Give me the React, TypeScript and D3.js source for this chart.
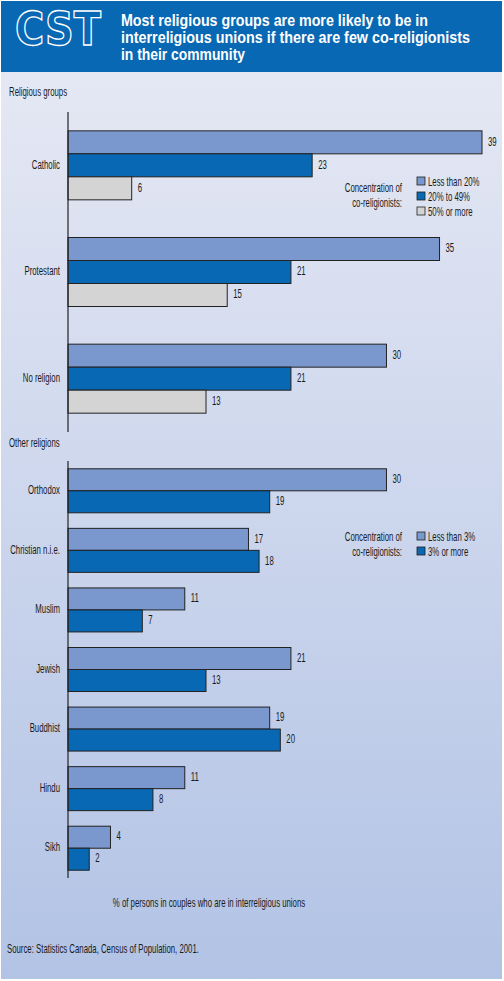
import React from 'react'
import * as d3 from 'd3'

// Top panel: major religious groups
const topGroups = ['Catholic', 'Protestant', 'No religion']
const topKeys = ['Less than 20%', '20% to 49%', '50% or more']
const topLess20 = [39, 35, 30]
const top20to49 = [23, 21, 21]
const top50plus = [6, 15, 13]

// Bottom panel: other religions
const otherGroups = ['Orthodox', 'Christian n.i.e.', 'Muslim', 'Jewish', 'Buddhist', 'Hindu', 'Sikh']
const otherKeys = ['Less than 3%', '3% or more']
const otherLess3 = [30, 17, 11, 21, 19, 11, 4]
const other3plus = [19, 18, 7, 13, 20, 8, 2]

const titleLines = [
  'Most religious groups are more likely to be in',
  'interreligious unions if there are few co-religionists',
  'in their community',
]
const titleWidths = [307, 349, 124]

const W = 504
const H = 981
const AXIS_X = 68
const FONT = "'Liberation Sans', Arial, sans-serif"
const TEXT = '#1a1a1a'
const COLORS = ['#7b98ce', '#0868b3', '#d4d4d4']
const TITLE_SX = 0.85

const x = d3.scaleLinear().domain([0, 39]).range([AXIS_X, 482])

// narrow text: no condensed face installed, so squeeze horizontally
function T({ x, y, anchor = 'start', size = 12, sx = 0.65, children, ...rest }) {
  return (
    <text
      transform={`translate(${x},${y}) scale(${sx},1)`}
      textAnchor={anchor}
      fontSize={size}
      fill={TEXT}
      {...rest}
    >
      {children}
    </text>
  )
}

function Panel({ groups, keys, series, y0, y1, block }) {
  const outer = d3.scaleBand().domain(groups).range([y0, y1]).padding(0)
  const inner = d3.scaleBand().domain(keys).range([0, block]).padding(0)
  const off = (outer.bandwidth() - block) / 2

  return (
    <g>
      {groups.map((g, gi) => {
        const top = outer(g) + off
        return (
          <g key={g}>
            {keys.map((k, ki) => {
              const v = series[ki][gi]
              const y = top + inner(k)
              return (
                <g key={k}>
                  <rect
                    x={AXIS_X}
                    y={y}
                    width={x(v) - AXIS_X}
                    height={inner.bandwidth()}
                    fill={COLORS[ki]}
                    stroke="#222"
                    strokeWidth={1}
                  />
                  <T x={x(v) + 6} y={y + inner.bandwidth() / 2} dominantBaseline="middle">
                    {v}
                  </T>
                </g>
              )
            })}
            <T x={60} y={top + block / 2} anchor="end" dominantBaseline="middle">
              {g}
            </T>
          </g>
        )
      })}
      <line x1={AXIS_X} x2={AXIS_X} y1={y0} y2={y1} stroke="#222" strokeWidth={1.2} />
    </g>
  )
}

function Legend({ keys, y0, y1 }) {
  return (
    <g>
      <T x={402} y={y0} anchor="end">Concentration of</T>
      <T x={402} y={y0 + 15} anchor="end">co-religionists:</T>
      {keys.map((k, i) => (
        <g key={k}>
          <rect x={417} y={y1 - 9 + i * 15} width={8} height={8} fill={COLORS[i]} stroke="#222" strokeWidth={0.8} />
          <T x={428} y={y1 + i * 15}>{k}</T>
        </g>
      ))}
    </g>
  )
}

export default function App() {
  return (
    <>
      <style>{'body{margin:0}'}</style>
      <svg width={W} height={H} style={{ display: 'block' }} fontFamily={FONT}>
        <defs>
          <linearGradient id="bg" x1="0" y1="0" x2="0" y2="1">
            <stop offset="0%" stopColor="#e5e8f4" />
            <stop offset="100%" stopColor="#b2c3e5" />
          </linearGradient>
        </defs>
        <rect x={0} y={0} width={W} height={H} fill="#fff" />
        <rect x={1} y={72} width={W - 3} height={H - 74} fill="url(#bg)" />
        <rect x={1} y={1} width={W - 3} height={71} fill="#0868b3" />

        {/* CST logo */}
        <text
          x={15}
          y={45}
          fontSize={46}
          fontWeight={900}
          fontFamily="'DejaVu Sans', sans-serif"
          fill="none"
          stroke="#fff"
          strokeWidth={1.4}
          textLength={86}
          lengthAdjust="spacingAndGlyphs"
        >
          CST
        </text>

        {titleLines.map((line, i) => (
          <text
            key={i}
            transform={`translate(121,${26 + i * 17}) scale(${TITLE_SX},1)`}
            fill="#fff"
            fontWeight="bold"
            fontSize={16}
            textLength={titleWidths[i] / TITLE_SX}
            lengthAdjust="spacingAndGlyphs"
          >
            {line}
          </text>
        ))}

        <T x={9} y={96}>Religious groups</T>
        <Panel
          groups={topGroups}
          keys={topKeys}
          series={[topLess20, top20to49, top50plus]}
          y0={112}
          y1={432}
          block={69}
        />
        <Legend keys={topKeys} y0={192} y1={186} />

        <T x={9} y={447}>Other religions</T>
        <Panel
          groups={otherGroups}
          keys={otherKeys}
          series={[otherLess3, other3plus]}
          y0={461}
          y1={878}
          block={44}
        />
        <Legend keys={otherKeys} y0={541} y1={541} />

        <T x={209} y={907} anchor="middle">
          % of persons in couples who are in interreligious unions
        </T>
        <T x={7} y={953}>
          Source: Statistics Canada, Census of Population, 2001.
        </T>
      </svg>
    </>
  )
}
